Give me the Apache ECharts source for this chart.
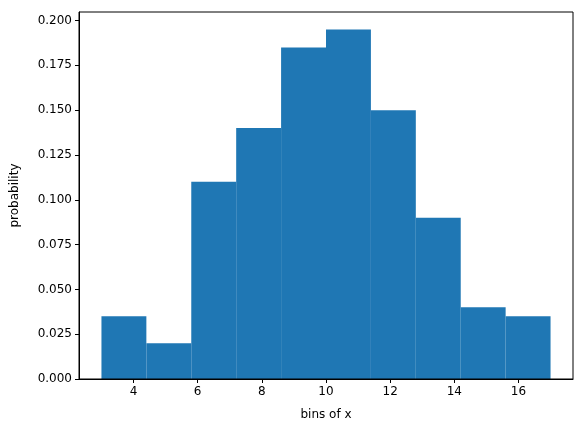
<!DOCTYPE html><html><head><meta charset="utf-8"><script src="https://cdn.jsdelivr.net/npm/echarts@6/dist/echarts.min.js"></script>
<style>html,body{margin:0;padding:0;background:#fff}#c{width:584px;height:432px}</style></head><body><div id="c"></div><script>
const binEdges=[3,4.4,5.8,7.2,8.6,10,11.4,12.8,14.2,15.6,17];
const probs=[0.035,0.02,0.11,0.14,0.185,0.195,0.15,0.09,0.04,0.035];
const xTicks=[4,6,8,10,12,14,16];
const yTicks=[0,0.025,0.05,0.075,0.1,0.125,0.15,0.175,0.2];
const data=probs.map((p,i)=>[binEdges[i],binEdges[i+1],p]);
const font={fontFamily:'DejaVu Sans',fontSize:12,color:'#000'};
const ax={lineStyle:{color:'#000',width:1}};
const chart=echarts.init(document.getElementById('c'));
chart.setOption({animation:false,
grid:{left:79,right:11,top:12,bottom:53},
xAxis:{type:'value',min:2.3,max:17.7,name:'bins of x',nameLocation:'middle',nameGap:30,nameTextStyle:font,
 axisLine:ax,splitLine:{show:false},axisTick:{show:true,length:4,lineStyle:{color:'#000'},customValues:xTicks},
 axisLabel:Object.assign({customValues:xTicks,margin:7},font)},
yAxis:{type:'value',min:0,max:0.20475,name:'probability',nameLocation:'middle',nameGap:58,nameTextStyle:font,
 axisLine:Object.assign({show:true},ax),splitLine:{show:false},axisTick:{show:true,length:4,lineStyle:{color:'#000'},customValues:yTicks},
 axisLabel:Object.assign({customValues:yTicks,margin:7,formatter:v=>v.toFixed(3)},font)},
series:[{type:'custom',data:data,encode:{x:[0,1],y:2},renderItem:(params,api)=>{
 const a=api.coord([api.value(0),api.value(2)]),b=api.coord([api.value(1),0]);
 return {type:'rect',shape:{x:a[0],y:a[1],width:b[0]-a[0],height:b[1]-a[1]},style:{fill:'#1f77b4'}};}}]
});
// frame top/right
chart.setOption({graphic:[{type:'rect',shape:{x:79,y:12,width:494,height:367},style:{fill:null,stroke:'#000',lineWidth:1},z:100}]});
</script></body></html>
